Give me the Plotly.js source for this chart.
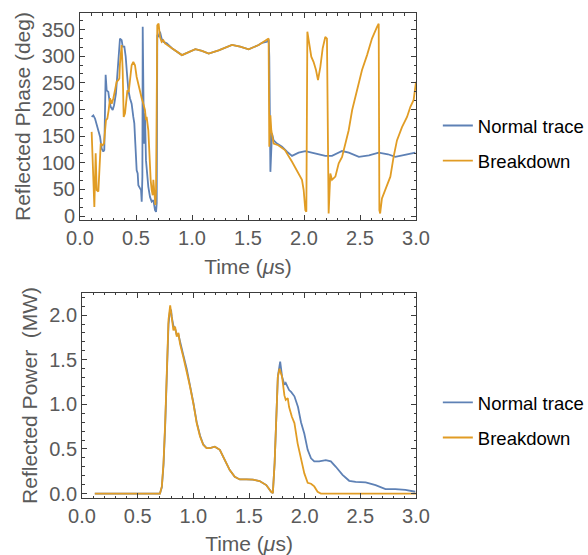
<!DOCTYPE html>
<html>
<head>
<meta charset="utf-8">
<script src="https://cdn.plot.ly/plotly-3.0.1.min.js"></script>
<style>html,body{margin:0;padding:0;background:#fff;}#chart{width:588px;height:555px;}</style>
</head>
<body>
<div id="chart"></div>
<script>
// ---- Data ----
const seriesNames = ["Normal trace", "Breakdown"];
const xTitle = "Time (<i>μ</i>s)";
const phaseTitle = "Reflected Phase (deg)";
const powerTitle = "Reflected Power  (MW)";

const phaseNormalT = [0.104,0.119,0.134,0.149,0.164,0.179,0.193,0.208,0.217,0.229,0.238,0.253,0.262,0.274,0.292,0.304,0.321,0.333,0.345,0.357,0.372,0.381,0.396,0.408,0.417,0.432,0.446,0.461,0.476,0.485,0.494,0.506,0.515,0.521,0.536,0.545,0.551,0.557,0.56,0.565,0.571,0.58,0.589,0.61,0.625,0.64,0.655,0.67,0.679,0.685,0.69,0.70,0.714,0.729,0.744,0.774,0.804,0.821,0.91,0.97,1.03,1.089,1.149,1.238,1.357,1.43,1.506,1.595,1.625,1.67,1.685,1.69,1.70,1.714,1.729,1.759,1.804,1.848,1.893,1.952,2.012,2.05,2.101,2.19,2.25,2.34,2.40,2.49,2.58,2.667,2.75,2.815,2.90,2.994];
const phaseNormal = [186,189,183,171,164,149,127,121,124,265,236,233,218,205,199,208,230,261,305,333,330,318,318,299,274,236,221,211,186,174,136,86,80,58,52,49,27,74,355,199,136,193,105,55,36,27,30,11,8,24,340,336,346,333,327,324,318,315,302,308,313,310,305,311,321,318,313,321,325,327,331,299,83,155,142,136,130,121,113,119,122,120,117,113,113,122,119,111,114,119,116,111,115,119];

const phaseBreakT = [0.104,0.119,0.128,0.14,0.149,0.164,0.173,0.185,0.202,0.214,0.232,0.244,0.256,0.268,0.283,0.298,0.3125,0.327,0.342,0.351,0.357,0.372,0.381,0.39,0.402,0.411,0.423,0.435,0.446,0.461,0.476,0.491,0.506,0.521,0.536,0.551,0.565,0.58,0.589,0.595,0.61,0.619,0.631,0.64,0.649,0.655,0.667,0.673,0.679,0.69,0.702,0.714,0.729,0.744,0.759,0.804,0.821,0.91,0.97,1.03,1.089,1.149,1.238,1.357,1.43,1.506,1.595,1.625,1.67,1.684,1.69,1.70,1.708,1.729,1.77,1.83,1.893,1.937,1.982,1.997,2.012,2.021,2.03,2.042,2.065,2.086,2.107,2.125,2.146,2.167,2.19,2.205,2.214,2.22,2.235,2.25,2.28,2.31,2.34,2.369,2.399,2.43,2.473,2.518,2.563,2.607,2.652,2.667,2.673,2.68,2.696,2.726,2.771,2.80,2.83,2.875,2.92,2.95,2.979,3.0];
const phaseBreak = [158,86,17,118,49,46,92,136,133,136,180,183,199,221,211,221,236,252,255,258,286,321,274,186,193,211,236,233,255,283,289,283,261,246,230,221,211,199,180,186,161,111,68,49,39,68,36,21,49,358,361,336,327,330,324,318,315,302,308,313,310,305,311,321,318,313,321,325,330,333,130,189,161,136,133,124,102,86,68,49,11,8,346,330,299,289,274,255,280,315,336,333,11,5,80,68,74,99,111,136,161,199,236,274,302,333,355,361,11,5,33,49,74,111,142,167,186,205,218,252];

const powerNormalT = [0.115,0.40,0.70,0.717,0.732,0.747,0.762,0.777,0.79,0.80,0.806,0.821,0.836,0.851,0.866,0.88,0.91,0.94,0.97,1.0,1.03,1.06,1.089,1.119,1.149,1.193,1.238,1.283,1.327,1.372,1.417,1.476,1.536,1.595,1.655,1.699,1.714,1.73,1.744,1.759,1.78,1.797,1.818,1.83,1.86,1.878,1.908,1.94,1.967,1.997,2.027,2.057,2.086,2.13,2.19,2.235,2.28,2.34,2.40,2.458,2.548,2.637,2.726,2.815,2.905,2.994];
const powerNormal = [0,0,0,0.07,0.32,0.76,1.40,1.90,2.05,2.06,1.98,1.88,1.85,1.78,1.78,1.70,1.55,1.40,1.22,1.02,0.80,0.65,0.55,0.51,0.51,0.525,0.49,0.375,0.263,0.188,0.158,0.158,0.155,0.14,0.095,0.02,0.005,0.34,0.86,1.31,1.48,1.31,1.22,1.24,1.16,1.14,1.09,0.97,0.80,0.67,0.49,0.395,0.36,0.36,0.375,0.36,0.30,0.21,0.143,0.13,0.125,0.095,0.05,0.05,0.04,0.02];

const powerBreakT = [0.115,0.40,0.70,0.717,0.732,0.747,0.762,0.777,0.792,0.806,0.821,0.836,0.851,0.866,0.88,0.91,0.94,0.97,1.0,1.03,1.06,1.089,1.119,1.149,1.193,1.238,1.283,1.327,1.372,1.417,1.476,1.536,1.595,1.655,1.699,1.714,1.73,1.744,1.759,1.774,1.797,1.818,1.83,1.848,1.86,1.885,1.908,1.937,1.967,1.997,2.027,2.057,2.086,2.116,2.146,2.5,3.0];
const powerBreak = [0,0,0,0.08,0.34,0.79,1.42,1.95,2.11,1.95,1.83,1.87,1.76,1.80,1.68,1.53,1.38,1.20,1.01,0.79,0.64,0.546,0.51,0.51,0.525,0.49,0.375,0.263,0.188,0.158,0.158,0.155,0.14,0.095,0.02,0.005,0.34,0.86,1.31,1.40,1.31,1.10,1.05,1.07,0.97,0.86,0.79,0.56,0.41,0.226,0.12,0.11,0.08,0.02,0,0,0];

// ---- Styles ----
const BLUE = "#5E81B5", ORANGE = "#E19C24";
const FONT = "Liberation Sans, Arial, sans-serif";
const LABEL = "#5a5a5a", FRAME = "#3c3c3c";

function tr(x, y, name, color, xa, ya, legend, grp) {
  return {x: x, y: y, name: name, type: "scatter", mode: "lines",
    line: {color: color, width: 1.8}, xaxis: xa, yaxis: ya,
    legend: legend, legendgroup: grp};
}
const data = [
  tr(phaseNormalT, phaseNormal, seriesNames[0], BLUE, "x", "y", "legend", "a1"),
  tr(phaseBreakT, phaseBreak, seriesNames[1], ORANGE, "x", "y", "legend", "b1"),
  tr(powerNormalT, powerNormal, seriesNames[0], BLUE, "x2", "y2", "legend2", "a2"),
  tr(powerBreakT, powerBreak, seriesNames[1], ORANGE, "x2", "y2", "legend2", "b2")
];

function xax(anchor, dom) {
  return {domain: dom, anchor: anchor, range: [0, 3.0], dtick: 0.5, tick0: 0,
    tickformat: ".1f", ticks: "inside", ticklen: 5, tickcolor: FRAME, tickwidth: 1,
    minor: {ticks: "inside", dtick: 0.1, tick0: 0, ticklen: 2.5, tickcolor: FRAME},
    showline: true, linecolor: FRAME, linewidth: 1, mirror: "ticks",
    showgrid: false, zeroline: false,
    tickfont: {family: FONT, size: 20, color: LABEL},
    title: {text: xTitle, font: {family: FONT, size: 21, color: LABEL}, standoff: 11}};
}
function yax(anchor, dom, range, dtick, minorD, fmt, title) {
  return {domain: dom, anchor: anchor, range: range, dtick: dtick, tick0: 0,
    tickformat: fmt, ticks: "inside", ticklen: 5, tickcolor: FRAME,
    minor: {ticks: "inside", dtick: minorD, tick0: 0, ticklen: 2.5, tickcolor: FRAME},
    showline: true, linecolor: FRAME, linewidth: 1, mirror: "ticks",
    showgrid: false, zeroline: false,
    tickfont: {family: FONT, size: 20, color: LABEL},
    title: {text: title, font: {family: FONT, size: 21, color: LABEL}, standoff: 5}};
}

const legendBase = {xanchor: "left", yanchor: "middle", x: 1.065,
  font: {family: FONT, size: 18.5, color: "#000"}, traceorder: "grouped",
  tracegroupgap: 8, bgcolor: "rgba(0,0,0,0)", itemwidth: 30};

const layout = {
  width: 588, height: 555,
  margin: {l: 80, r: 172, t: 13, b: 57, autoexpand: false},
  paper_bgcolor: "#fff", plot_bgcolor: "#fff",
  showlegend: true,
  xaxis: xax("y", [0, 1]),
  yaxis: yax("x", [0.573, 1], [-7.5, 381], 50, 50/3, "d", phaseTitle),
  xaxis2: xax("y2", [0.006, 1]),
  yaxis2: yax("x2", [0, 0.423], [-0.05, 2.25], 0.5, 0.1, ".1f", powerTitle),
  legend: Object.assign({}, legendBase, {y: 0.731}),
  legend2: Object.assign({}, legendBase, {y: 0.16})
};

Plotly.newPlot("chart", data, layout, {displayModeBar: false, staticPlot: true});
</script>
</body>
</html>
